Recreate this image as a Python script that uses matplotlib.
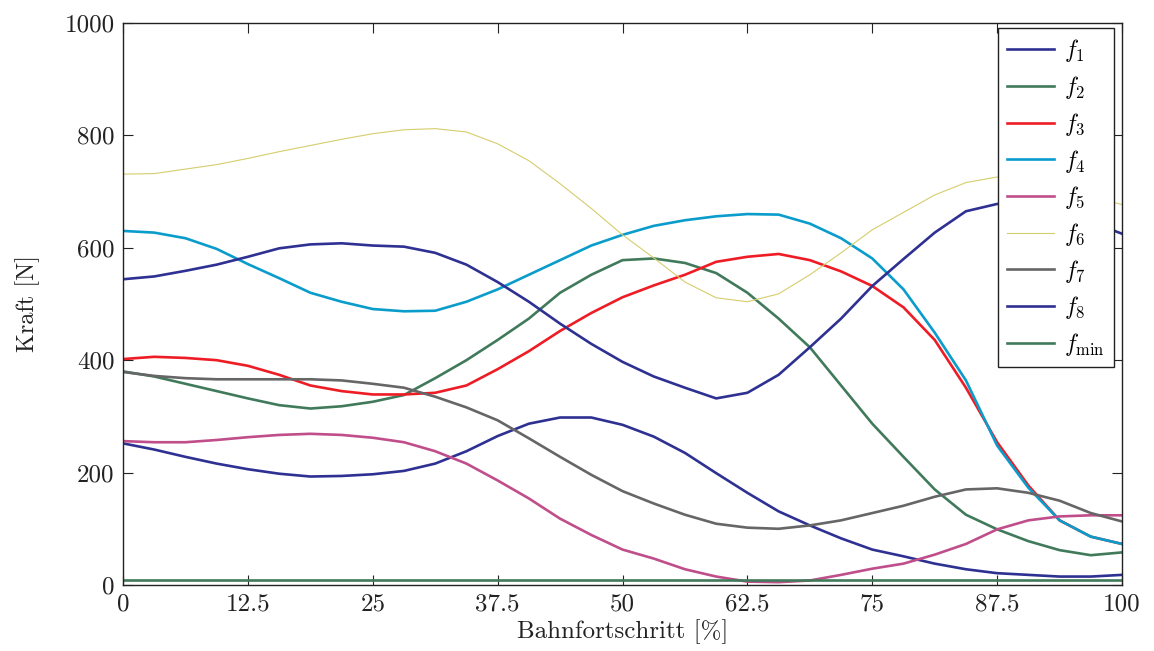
import matplotlib
matplotlib.use("Agg")
import matplotlib.pyplot as plt

plt.rcParams['font.family'] = 'serif'
plt.rcParams['font.serif'] = ['cmr10', 'DejaVu Serif']
plt.rcParams['mathtext.fontset'] = 'cm'
plt.rcParams['axes.unicode_minus'] = False

# path progress [%] and force values [N]
x = [0, 3.125, 6.25, 9.375, 12.5, 15.625, 18.75, 21.875, 25, 28.125, 31.25,
     34.375, 37.5, 40.625, 43.75, 46.875, 50, 53.125, 56.25, 59.375, 62.5,
     65.625, 68.75, 71.875, 75, 78.125, 81.25, 84.375, 87.5, 90.625, 93.75,
     96.875, 100]
f1 = [252, 241, 228, 216, 206, 198, 193, 194, 197, 203, 216, 238, 265, 287, 298, 298,
      285, 264, 235, 199, 164, 131, 106, 83, 63, 51, 38, 28, 21, 18, 15, 15, 18]
f2 = [380, 371, 358, 345, 332, 320, 314, 318, 326, 338, 368, 400, 436, 474, 520, 552,
      578, 581, 573, 555, 520, 474, 423, 355, 287, 228, 170, 125, 99, 78, 62, 53, 58]
f3 = [402, 406, 404, 400, 390, 374, 355, 345, 339, 339, 342, 355, 384, 416, 452, 484,
      512, 533, 552, 575, 584, 589, 578, 558, 532, 494, 436, 351, 254, 177, 115, 86, 73]
f4 = [630, 627, 617, 598, 571, 546, 520, 504, 491, 487, 488, 504, 526, 552, 578, 604,
      623, 639, 649, 656, 660, 659, 643, 617, 581, 526, 449, 364, 248, 173, 115, 86, 73]
f5 = [256, 254, 254, 258, 263, 267, 269, 267, 262, 254, 238, 216, 186, 154, 118, 89,
      63, 47, 28, 15, 6, 5, 8, 18, 29, 38, 54, 73, 99, 115, 122, 124, 124]
f6 = [731, 732, 740, 748, 759, 771, 782, 793, 803, 810, 812, 806, 785, 755, 714, 670,
      623, 582, 539, 511, 504, 518, 552, 591, 632, 663, 694, 716, 726, 720, 705, 690, 677]
f7 = [379, 372, 368, 366, 366, 366, 366, 364, 358, 351, 335, 316, 293, 261, 228, 196,
      167, 145, 125, 109, 102, 100, 106, 115, 128, 141, 157, 170, 172, 164, 150, 128, 113]
f8 = [544, 549, 559, 570, 584, 599, 606, 608, 604, 602, 591, 570, 539, 504, 465, 429,
      397, 371, 351, 332, 342, 374, 423, 474, 532, 580, 627, 665, 678, 681, 665, 646, 625]
fmin = [8] * len(x)

labels = ['$f_1$', '$f_2$', '$f_3$', '$f_4$', '$f_5$', '$f_6$', '$f_7$', '$f_8$', '$f_{\\min}$']
colors = ['#2e3192', '#417a5b', '#ee1c25', '#0a9ccb', '#bf4e8b', '#d6cd6c', '#666666',
          '#2e3192', '#417a5b']
widths = [1.9, 1.9, 1.9, 1.9, 1.9, 0.8, 1.9, 1.9, 1.9]

xticks = [0, 12.5, 25, 37.5, 50, 62.5, 75, 87.5, 100]
xticklabels = ['0', '12.5', '25', '37.5', '50', '62.5', '75', '87.5', '100']
yticks = [0, 200, 400, 600, 800, 1000]

fig = plt.figure(figsize=(11.54, 6.51), dpi=100)
ax = fig.add_axes([0.1066, 0.1014, 0.8657, 0.8633])

for y, lab, c, lw in zip([f1, f2, f3, f4, f5, f6, f7, f8, fmin], labels, colors, widths):
    ax.plot(x, y, color=c, lw=lw, label=lab, solid_joinstyle='round')

ax.set_xlim(0, 100)
ax.set_ylim(0, 1000)
ax.set_xticks(xticks)
ax.set_xticklabels(xticklabels)
ax.set_yticks(yticks)
ax.tick_params(direction='in', length=7, width=0.8, top=True, right=True,
               labelsize=18, colors='#222222', pad=6)
for s in ax.spines.values():
    s.set_color('#222222')
    s.set_linewidth(1.0)

ax.set_xlabel('Bahnfortschritt [%]', fontsize=18, labelpad=3, color='#222222')
ax.set_ylabel('Kraft [N]', fontsize=17.5, labelpad=18, color='#222222')

leg = ax.legend(loc='upper right', bbox_to_anchor=(0.992, 0.991), borderaxespad=0,
                fontsize=17, fancybox=False, framealpha=1, edgecolor='#222222',
                handlelength=2.0, labelspacing=0.41, handletextpad=0.4,
                borderpad=0.4)
leg.get_frame().set_linewidth(1.0)

fig.savefig('out.png', dpi=100)
